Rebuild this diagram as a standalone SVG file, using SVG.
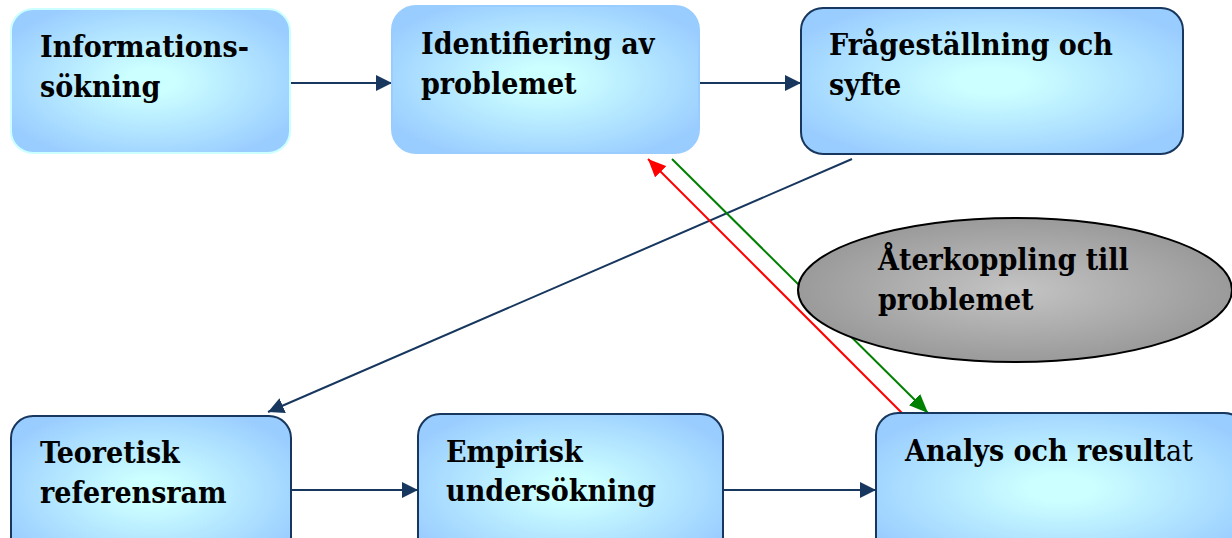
<svg xmlns="http://www.w3.org/2000/svg" width="1232" height="538" viewBox="0 0 1232 538">
  <defs>
    <radialGradient id="boxFill" cx="50%" cy="50%" r="60%">
      <stop offset="0" stop-color="#ccffff"/>
      <stop offset="0.15" stop-color="#ccffff"/>
      <stop offset="1" stop-color="#99ccff"/>
    </radialGradient>
    <radialGradient id="ovalFill" cx="50%" cy="50%" r="55%">
      <stop offset="0" stop-color="#c4c4c4"/>
      <stop offset="1" stop-color="#969696"/>
    </radialGradient>
    <marker id="headNavy" markerUnits="userSpaceOnUse" markerWidth="17" markerHeight="16" refX="16" refY="8" orient="auto">
      <path d="M0,0 L16,8 L0,16 Z" fill="#17375e"/>
    </marker>
    <marker id="headGreen" markerUnits="userSpaceOnUse" markerWidth="20" markerHeight="16" refX="19" refY="8" orient="auto">
      <path d="M0,0 L19,8 L0,16 Z" fill="#008000"/>
    </marker>
    <marker id="headRed" markerUnits="userSpaceOnUse" markerWidth="19" markerHeight="16" refX="18" refY="8" orient="auto">
      <path d="M0,0 L18,8 L0,16 Z" fill="#ff0000"/>
    </marker>
  </defs>
  <style>
    .box { fill: url(#boxFill); stroke: #17375e; stroke-width: 2; }
    .lbl { font-family: "DejaVu Serif", "Liberation Serif", serif; font-stretch: condensed; font-weight: bold; font-size: 30px; fill: #000; }
    .reg { font-weight: normal; }
    .flow { stroke: #17375e; stroke-width: 2; fill: none; marker-end: url(#headNavy); }
  </style>

  <rect width="1232" height="538" fill="#ffffff"/>

  <!-- connectors -->
  <g id="connectors">
    <line class="flow" x1="290" y1="83" x2="392" y2="83"/>
    <line class="flow" x1="699" y1="83" x2="801" y2="83"/>
    <line class="flow" x1="852" y1="159" x2="268" y2="412"/>
    <line class="flow" x1="291" y1="490" x2="418" y2="490"/>
    <line class="flow" x1="723" y1="490" x2="876" y2="490"/>
    <line x1="672" y1="159" x2="928" y2="413" stroke="#008000" stroke-width="2" marker-end="url(#headGreen)"/>
    <line x1="903" y1="414" x2="648" y2="159" stroke="#ff0000" stroke-width="2" marker-end="url(#headRed)"/>
  </g>

  <!-- process steps -->
  <g id="informationssokning">
    <rect class="box" x="11" y="9" width="279" height="144" rx="22" style="stroke:#ccffff"/>
    <text class="lbl" x="40" y="57">Informations-</text>
    <text class="lbl" x="40" y="97">sökning</text>
  </g>
  <g id="identifiering">
    <rect class="box" x="392" y="6" width="307" height="147" rx="24" style="stroke:#99ccff"/>
    <text class="lbl" x="421" y="54">Identifiering av</text>
    <text class="lbl" x="421" y="94">problemet</text>
  </g>
  <g id="fragestallning">
    <rect class="box" x="801" y="8" width="382" height="146" rx="22"/>
    <text class="lbl" x="829" y="55">Frågeställning och</text>
    <text class="lbl" x="829" y="95">syfte</text>
  </g>
  <g id="teoretisk">
    <rect class="box" x="11" y="416" width="280" height="150" rx="22"/>
    <text class="lbl" x="40" y="463">Teoretisk</text>
    <text class="lbl" x="40" y="503">referensram</text>
  </g>
  <g id="empirisk">
    <rect class="box" x="418" y="414" width="305" height="150" rx="22"/>
    <text class="lbl" x="446" y="462">Empirisk</text>
    <text class="lbl" x="446" y="501">undersökning</text>
  </g>
  <g id="analys">
    <rect class="box" x="876" y="413" width="370" height="150" rx="22"/>
    <text class="lbl" x="905" y="461">Analys och result<tspan class="reg">at</tspan></text>
  </g>

  <!-- feedback note -->
  <g id="aterkoppling">
    <ellipse cx="1015" cy="290" rx="217" ry="72" fill="url(#ovalFill)" stroke="#000" stroke-width="2"/>
    <text class="lbl" x="878" y="270">Återkoppling till</text>
    <text class="lbl" x="878" y="310">problemet</text>
  </g>
</svg>
